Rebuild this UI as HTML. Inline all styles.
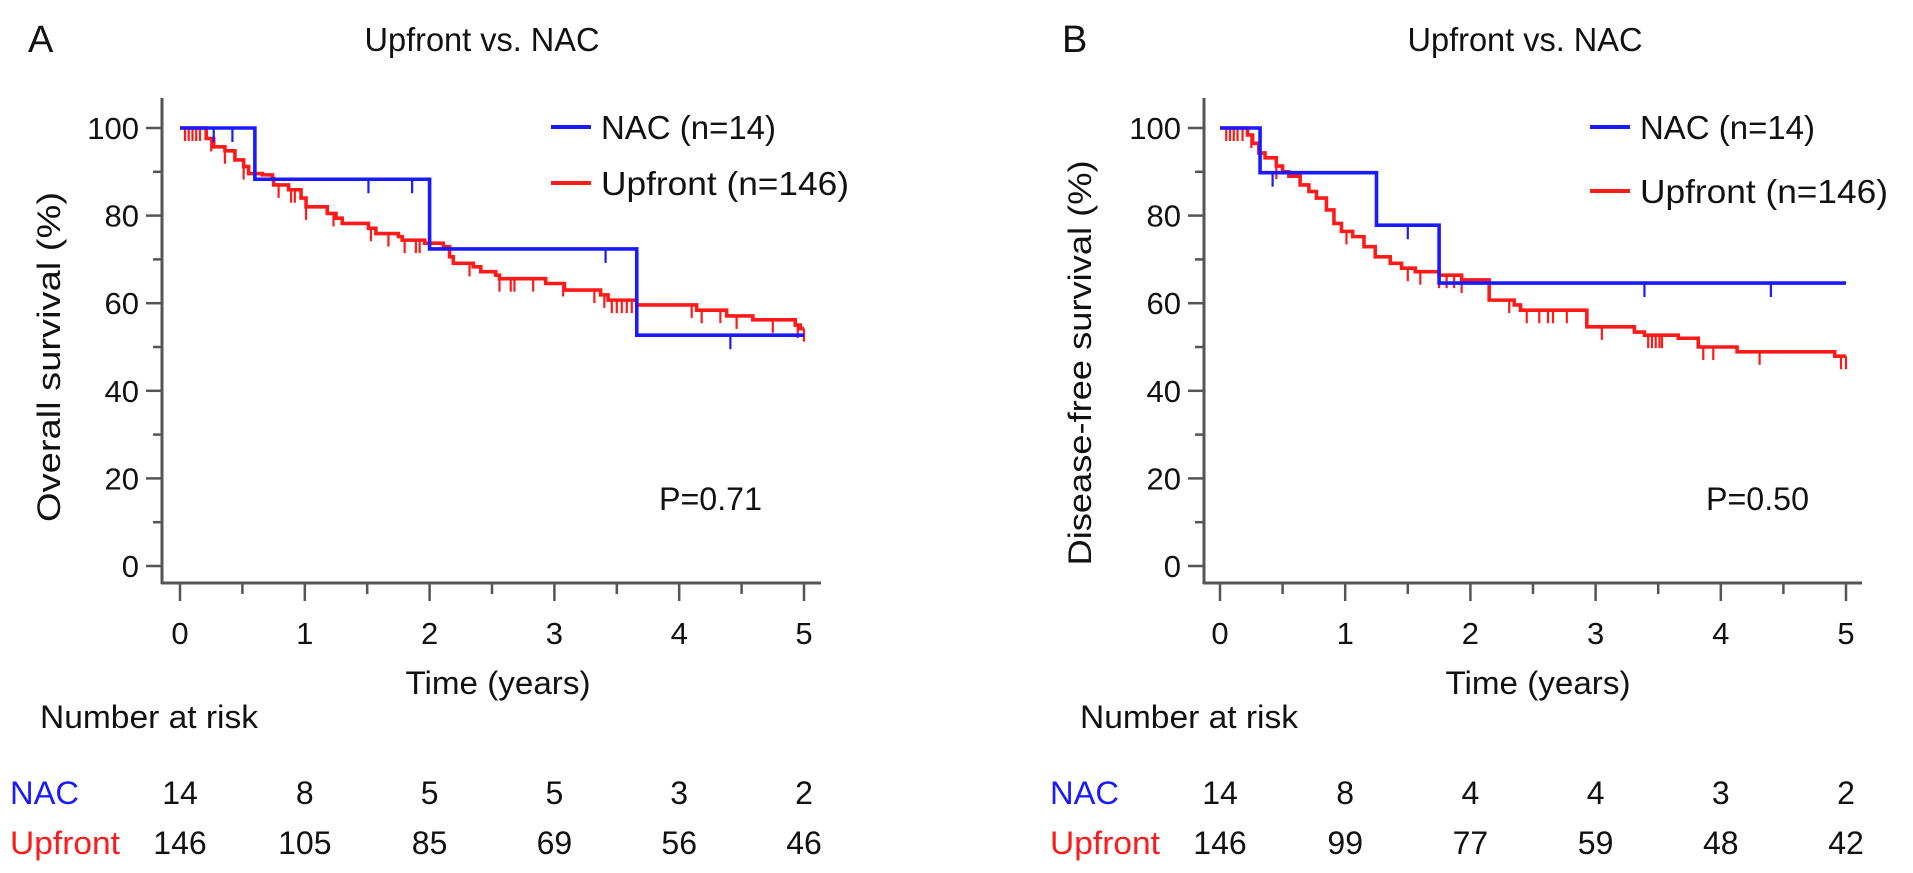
<!DOCTYPE html>
<html><head><meta charset="utf-8"><style>
html,body{margin:0;padding:0;background:#fff;}
svg{display:block;font-family:"Liberation Sans",Arial,sans-serif;}
</style></head><body>
<svg id="fig" width="1913" height="873" viewBox="0 0 1913 873" xmlns="http://www.w3.org/2000/svg"></svg>
<script>
// ---- data (Panel A: overall survival) ----
const aNacT = [0, 0.6, 2.0, 3.66];
const aNacS = [100, 88.3, 72.4, 52.7];
const aNacCens = [0.27, 0.42, 1.51, 1.86, 3.41, 4.41];
const aUpT = [0,0.21,0.27,0.36,0.44,0.51,0.55,0.66,0.74,0.75,0.87,0.97,1.01,1.18,1.25,1.30,1.51,1.57,1.75,1.78,1.96,2.11,2.16,2.19,2.35,2.41,2.53,2.56,2.93,3.08,3.37,3.43,3.66,4.14,4.38,4.59,4.93,4.97];
const aUpS = [100,97.6,95.7,94.8,92.7,91.2,89.6,89.3,88.5,87.0,85.9,84.0,82.0,80.5,79.4,78.2,77.1,75.9,75.2,74.4,73.7,72.9,70.6,69.1,68.3,67.2,66.4,65.6,64.5,63.0,61.9,60.7,59.6,58.4,57.1,56.2,55.0,54.2];
const aUpCens = [0.04,0.07,0.10,0.13,0.16,0.25,0.36,0.51,0.79,0.89,0.92,1.01,1.23,1.53,1.67,1.80,1.89,1.92,2.32,2.56,2.65,2.68,2.83,3.07,3.32,3.40,3.46,3.50,3.54,3.58,3.62,4.10,4.18,4.33,4.46,4.75,4.95,5.0];
const aRiskNac = [14, 8, 5, 5, 3, 2];
const aRiskUp = [146, 105, 85, 69, 56, 46];
// ---- data (Panel B: disease-free survival) ----
const bNacT = [0, 0.32, 1.25, 1.75];
const bNacS = [100, 89.8, 77.8, 64.6];
const bNacCens = [0.42, 1.5, 3.39, 4.40];
const bUpT = [0,0.22,0.26,0.31,0.36,0.45,0.50,0.55,0.64,0.71,0.77,0.85,0.91,0.97,1.06,1.15,1.24,1.36,1.45,1.56,1.75,1.93,2.15,2.35,2.40,2.93,3.31,3.39,3.66,3.82,4.13,4.91];
const bUpS = [100,98.4,96.5,94.3,93.2,91.3,90.0,89.0,87.0,85.5,84.0,81.3,78.2,76.4,75.2,72.9,70.6,69.1,68.0,67.2,66.4,65.3,60.7,59.6,58.4,54.6,53.4,52.7,52.0,50.0,48.9,47.9];
const bUpCens = [0.05,0.08,0.11,0.14,0.18,0.25,0.45,1.01,1.50,1.60,1.75,1.81,1.87,1.93,2.31,2.45,2.55,2.62,2.66,2.77,3.05,3.42,3.45,3.48,3.51,3.53,3.86,3.94,4.31,4.96,5.0];
const bRiskNac = [14, 8, 4, 4, 3, 2];
const bRiskUp = [146, 99, 77, 59, 48, 42];
const xTicks = [0,1,2,3,4,5];
const yTicks = [0,20,40,60,80,100];

const svg = document.getElementById('fig');
const NS = 'http://www.w3.org/2000/svg';
function mk(tag, attrs, parent){
  const e = document.createElementNS(NS, tag);
  for (const k in attrs) e.setAttribute(k, attrs[k]);
  (parent||svg).appendChild(e);
  return e;
}
function txt(s, attrs, parent){
  if (attrs.textLength) attrs.lengthAdjust = 'spacingAndGlyphs';
  const e = mk('text', attrs, parent); e.textContent = s; return e;
}

function panel(cfg){
  const g = mk('g', {});
  
  
  const X = t => cfg.x0 + t*cfg.xs;
  const Y = s => 566 - s*4.38;
  const ax = cfg.axisX, axEnd = cfg.axisEnd;
  let e = txt(cfg.letter, {x: cfg.letterX, y: 52, 'font-size': 38, fill:'#111'}, g);
   
  e = txt('Upfront vs. NAC', {x: cfg.titleX, y: 51, 'font-size': 33, 'text-anchor':'middle', fill:'#111', textLength: 235}, g);
   
  e = mk('line', {x1: ax, y1: 98, x2: ax, y2: 584, stroke:'#555', 'stroke-width': 3}, g);
   
  e = mk('line', {x1: ax-1, y1: 583, x2: axEnd, y2: 583, stroke:'#555', 'stroke-width': 3}, g);
   
  for (let v = 0; v <= 100; v += 10){
    const major = v % 20 === 0;
    e = mk('line', {x1: ax - (major?16:9), y1: Y(v), x2: ax, y2: Y(v), stroke:'#555', 'stroke-width': 2.5}, g);
     
  }
  yTicks.forEach(v => {
    const t = txt(String(v), {x: ax-23, y: Y(v)+11, 'font-size': 31, 'text-anchor':'end', fill:'#111'}, g);
     
  });
  for (let k = 0; k <= 10; k++){
    const t = k/2, major = k % 2 === 0;
    e = mk('line', {x1: X(t), y1: 583, x2: X(t), y2: 583 + (major?18:11), stroke:'#555', 'stroke-width': 2.5}, g);
     
  }
  xTicks.forEach(v => {
    const t = txt(String(v), {x: X(v), y: 644, 'font-size': 31, 'text-anchor':'middle', fill:'#111'}, g);
     
  });
  e = txt('Time (years)', {x: cfg.timeX, y: 694, 'font-size': 32, 'text-anchor':'middle', fill:'#111', textLength: 185}, g);
   
  e = txt(cfg.ylab, {x: 0, y: 0, 'font-size': 32, 'text-anchor':'middle', fill:'#111', textLength: cfg.ylabLen,
    transform: `translate(${cfg.ylabX},${cfg.ylabY}) rotate(-90)`}, g);
   
  function series(T, S, cens, color, nm, tl){
    let d = `M${X(T[0])},${Y(S[0])}`;
    for (let i = 1; i < T.length; i++) d += ` H${X(T[i])} V${Y(S[i])}`;
    d += ` H${X(5)}`;
    const p = mk('path', {d, fill:'none', stroke: color, 'stroke-width': 3.6}, g);
    
    
    cens.forEach(c => {
      let s = S[0];
      for (let i = 0; i < T.length; i++) if (T[i] <= c) s = S[i];
      const l = mk('line', {x1: X(c), y1: Y(s), x2: X(c), y2: Y(s)+tl, stroke: color, 'stroke-width': 2.2}, g);
      
      
    });
  }
  series(cfg.upT, cfg.upS, cfg.upC, '#ff1a1a', 'upfront', 13);
  series(cfg.nacT, cfg.nacS, cfg.nacC, '#1a1aff', 'nac', 14);
  e = mk('line', {x1: cfg.legX, y1: 127, x2: cfg.legX+40, y2: 127, stroke:'#1a1aff', 'stroke-width': 4}, g);
   
  e = txt('NAC (n=14)', {x: cfg.legX+50, y: 139, 'font-size': 33, fill:'#111', textLength: 175}, g);
   
  e = mk('line', {x1: cfg.legX, y1: cfg.leg2Y, x2: cfg.legX+40, y2: cfg.leg2Y, stroke:'#ff1a1a', 'stroke-width': 4}, g);
   
  e = txt('Upfront (n=146)', {x: cfg.legX+50, y: cfg.leg2Y+12, 'font-size': 33, fill:'#111', textLength: 248}, g);
   
  e = txt(cfg.p, {x: cfg.pX, y: 510, 'font-size': 32, fill:'#111', textLength: 103}, g);
   
  e = txt('Number at risk', {x: cfg.riskX+30, y: 728, 'font-size': 32, fill:'#111', textLength: 218}, g);
   
  e = txt('NAC', {x: cfg.riskX, y: 804, 'font-size': 32, fill:'#1a1aff', textLength: 69}, g);
   
  e = txt('Upfront', {x: cfg.riskX, y: 854, 'font-size': 32, fill:'#ff1a1a', textLength: 110}, g);
   
  xTicks.forEach((t, i) => {
    let r = txt(String(cfg.rN[i]), {x: X(t), y: 804, 'font-size': 32, 'text-anchor':'middle', fill:'#111'}, g);
     
    r = txt(String(cfg.rU[i]), {x: X(t), y: 854, 'font-size': 32, 'text-anchor':'middle', fill:'#111'}, g);
     
  });
}

panel({name:'panel-a-overall-survival', letter:'A', letterX:28, titleX:482, x0:180, xs:124.8, axisX:162, axisEnd:821,
  timeX:498, ylab:'Overall survival (%)', ylabLen:330, ylabX:60, ylabY:357,
  nacT:aNacT, nacS:aNacS, nacC:aNacCens, upT:aUpT, upS:aUpS, upC:aUpCens,
  legX:551, leg2Y:183, p:'P=0.71', pX:659, riskX:10, rN:aRiskNac, rU:aRiskUp});
panel({name:'panel-b-disease-free-survival', letter:'B', letterX:1062, titleX:1525, x0:1220, xs:125.2, axisX:1204, axisEnd:1862,
  timeX:1538, ylab:'Disease-free survival (%)', ylabLen:405, ylabX:1091, ylabY:363,
  nacT:bNacT, nacS:bNacS, nacC:bNacCens, upT:bUpT, upS:bUpS, upC:bUpCens,
  legX:1590, leg2Y:191, p:'P=0.50', pX:1706, riskX:1050, rN:bRiskNac, rU:bRiskUp});
</script>
</body></html>
